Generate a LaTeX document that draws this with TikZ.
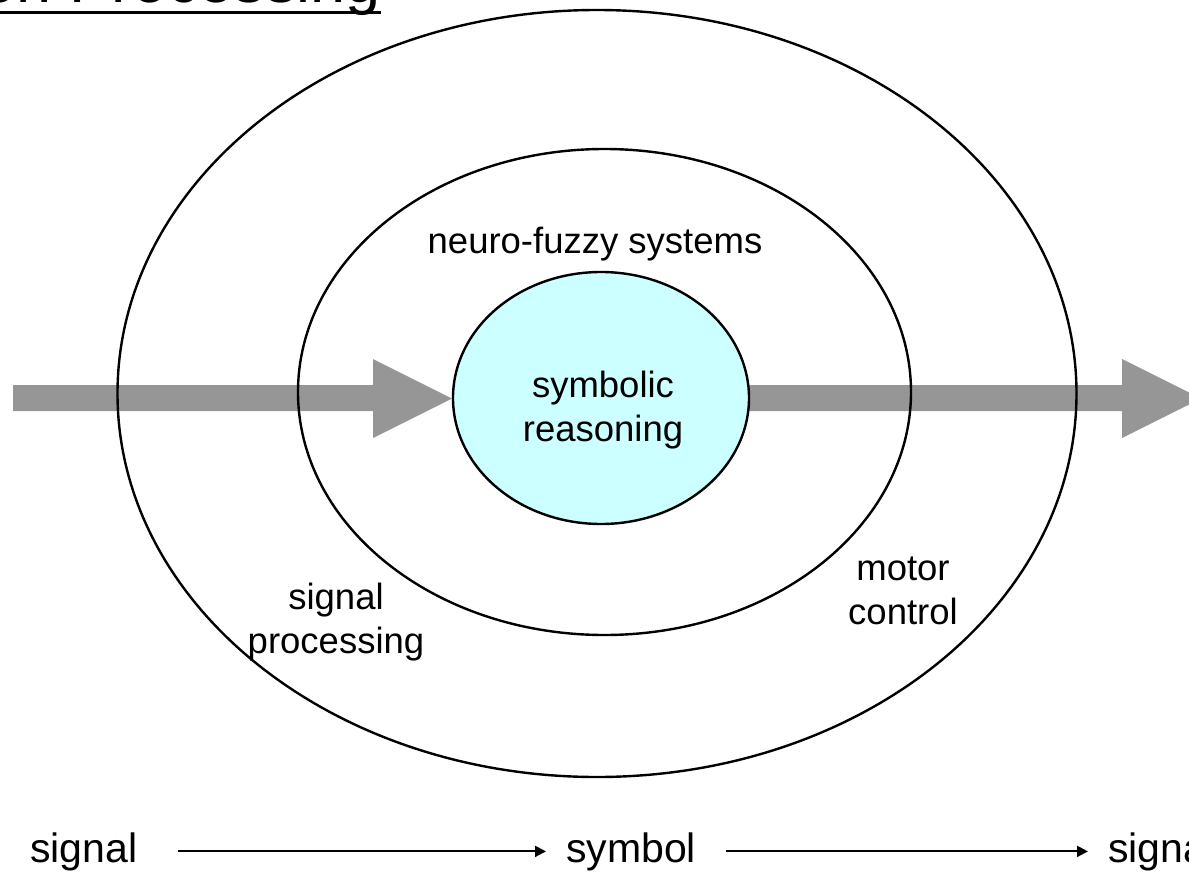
\documentclass[tikz,border=0pt]{standalone}
\usepackage{fontspec}
\setmainfont{Liberation Sans}
\usetikzlibrary{arrows.meta}
\definecolor{flowgray}{RGB}{150,150,150}
\definecolor{corefill}{RGB}{204,255,255}
\tikzset{
  ring/.style={draw=black, line width=2.4pt},
  flow/.style={fill=flowgray, draw=none},
  label/.style={inner sep=0pt, align=center, font=\fontsize{36.5}{44}\selectfont},
  chainword/.style={inner sep=0pt, font=\fontsize{41}{48}\selectfont},
  chainarrow/.style={line width=2pt, -{Triangle[length=11pt,width=11pt]}}
}
\begin{document}
\begin{tikzpicture}[x=1pt, y=-1pt]
\useasboundingbox (0,0) rectangle (1189,875);

% title (partly outside the frame)
\node[anchor=base east, inner sep=0pt, font=\fontsize{63}{70}\selectfont] (title) at (381,3) {on Processing};
\draw[line width=3.5pt] (title.base west |- 0,12.5) -- (title.base east |- 0,12.5);

% broad gray flow arrows: input towards the core, output away from it
\fill[flow] (13,385) -- (373,385) -- (373,359) -- (452,398.5) -- (373,438) -- (373,411) -- (13,411) -- cycle;
\fill[flow] (748,385) -- (1122,385) -- (1122,359) -- (1201,398.5) -- (1122,438) -- (1122,411) -- (748,411) -- cycle;

% nested layers
\draw[ring] (597,393.5) ellipse [x radius=479.5, y radius=383.5];
\draw[ring] (604.5,392) ellipse [x radius=306.5, y radius=243];
\draw[ring, fill=corefill] (601,398) ellipse [x radius=148, y radius=126];

% layer labels
\node[label, anchor=base] (nf) at (595,253) {neuro-fuzzy systems};
\node[label] (core) at (603,410) {symbolic\\reasoning};
\node[label] (sp) at (336,622) {signal\\processing};
\node[label] (mc) at (903,590.5) {motor\\control};

% signal -> symbol -> signal chain
\node[chainword, anchor=base west] (w1) at (30,862) {signal};
\node[chainword, anchor=base west] (w2) at (566,862) {symbol};
\node[chainword, anchor=base west] (w3) at (1108,862) {signal};
\draw[chainarrow, shorten <=40pt, shorten >=20pt] (w1.east) -- (w2.west);
\draw[chainarrow, shorten <=30pt, shorten >=20pt] (w2.east) -- (w3.west);
\end{tikzpicture}
\end{document}
